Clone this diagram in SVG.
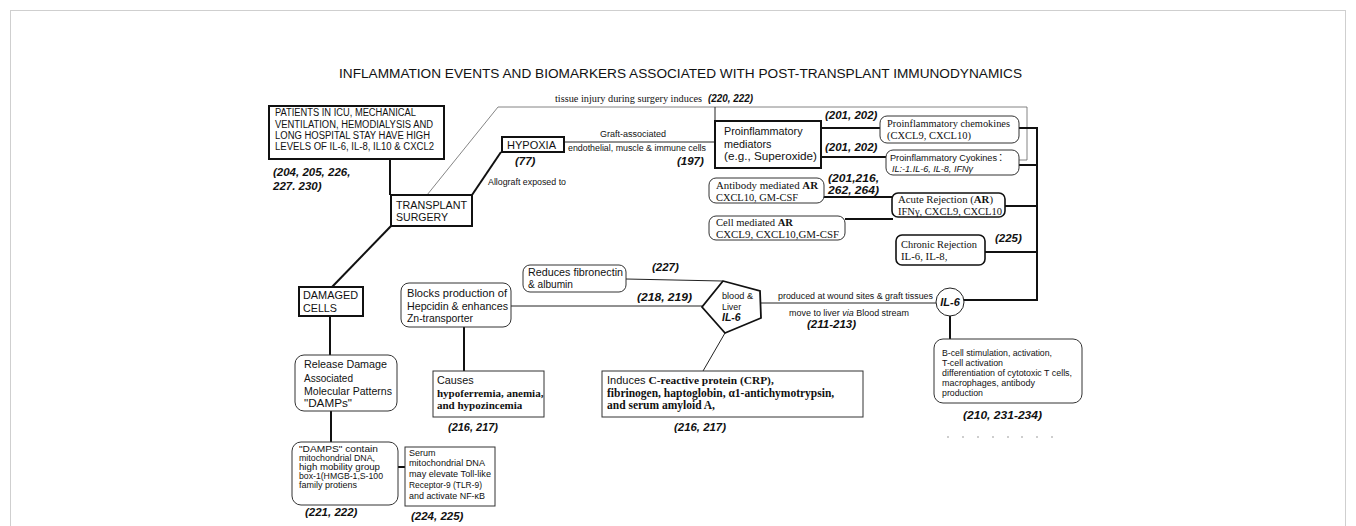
<svg xmlns="http://www.w3.org/2000/svg" width="1356" height="526" viewBox="0 0 1356 526">
<style>
.s{font-family:"Liberation Sans",Arial,sans-serif;fill:#111}
.r{font-family:"Liberation Serif","Times New Roman",serif;fill:#111}
.ref{font-family:"Liberation Sans",Arial,sans-serif;font-weight:bold;font-style:italic;fill:#111;font-size:11.5px}
.bx{fill:#fff;stroke:#111;stroke-width:2}
.rb{fill:#fff;stroke:#333;stroke-width:1}
.tk{stroke:#111;stroke-width:2;fill:none}
.tn{stroke:#222;stroke-width:1;fill:none}
.tl{stroke:#666;stroke-width:0.8;fill:none}
</style>
<rect x="0" y="0" width="1356" height="526" fill="#fff"/>
<rect x="10.5" y="10.5" width="1335" height="540" fill="none" stroke="#cfcfcf" stroke-width="1"/>
<text class="s" x="339" y="78" font-size="13.4" textLength="683" lengthAdjust="spacingAndGlyphs">INFLAMMATION EVENTS AND BIOMARKERS ASSOCIATED WITH POST-TRANSPLANT IMMUNODYNAMICS</text>

<g id="connectors">
<line class="tk" x1="390" y1="159" x2="390" y2="195"/>
<line class="tl" x1="427" y1="195" x2="498" y2="107"/>
<polyline class="tl" points="498,107 1027,107 1027,160 1019,160"/>
<line class="tn" x1="715" y1="107" x2="715" y2="121"/>
<line class="tk" x1="472" y1="195" x2="501" y2="152"/>
<line class="tn" x1="564" y1="142" x2="715" y2="142"/>
<line class="tk" x1="821" y1="128" x2="880" y2="128"/>
<line class="tk" x1="821" y1="157" x2="886" y2="157"/>
<line class="tk" x1="824" y1="197" x2="892" y2="197"/>
<line class="tk" x1="845" y1="219" x2="893" y2="219"/>
<polyline class="tk" points="1019,128 1037,128 1037,300 964,300"/>
<line class="tk" x1="1019" y1="165" x2="1037" y2="165"/>
<line class="tk" x1="1005" y1="206" x2="1037" y2="206"/>
<line class="tk" x1="985" y1="252" x2="1037" y2="252"/>
<line class="tk" x1="950" y1="316" x2="950" y2="339"/>
<line class="tn" x1="761" y1="303" x2="936" y2="303"/>
<line class="tn" x1="626" y1="279" x2="722" y2="281"/>
<line class="tn" x1="511" y1="306" x2="702" y2="306"/>
<line class="tk" x1="464" y1="327" x2="464" y2="371"/>
<line class="tn" x1="725" y1="333" x2="703" y2="371"/>
<line class="tk" x1="391" y1="226" x2="332" y2="287"/>
<line class="tk" x1="330" y1="316" x2="330" y2="355"/>
<line class="tk" x1="331" y1="411" x2="331" y2="442"/>
<line class="tk" x1="398" y1="467" x2="405" y2="467"/>
</g>

<g id="patients">
<rect class="bx" x="269" y="106" width="175" height="53"/>
<g class="s" font-size="10">
<text x="275" y="116" textLength="141" lengthAdjust="spacingAndGlyphs">PATIENTS IN ICU, MECHANICAL</text>
<text x="275" y="128" textLength="158" lengthAdjust="spacingAndGlyphs">VENTILATION, HEMODIALYSIS AND</text>
<text x="275" y="139" textLength="155" lengthAdjust="spacingAndGlyphs">LONG HOSPITAL STAY HAVE HIGH</text>
<text x="275" y="150" textLength="159" lengthAdjust="spacingAndGlyphs">LEVELS OF IL-6, IL-8, IL10 &amp; CXCL2</text>
</g>
<text class="ref" font-size="12"><tspan x="273" y="176">(204, 205, 226,</tspan><tspan x="273" y="190">227. 230)</tspan></text>
</g>

<g id="tissue-injury">
<text class="r" x="555" y="102" font-size="10" textLength="147" lengthAdjust="spacingAndGlyphs">tissue injury during surgery induces</text>
<text class="ref" x="708" y="102" font-size="9" textLength="45" lengthAdjust="spacingAndGlyphs">(220, 222)</text>
</g>

<g id="transplant">
<rect class="bx" x="391" y="195" width="81" height="31"/>
<text class="s" x="396" y="209" font-size="11.2" textLength="71" lengthAdjust="spacingAndGlyphs">TRANSPLANT</text>
<text class="s" x="396" y="221" font-size="11.2" textLength="52" lengthAdjust="spacingAndGlyphs">SURGERY</text>
</g>

<g id="hypoxia">
<rect class="bx" x="502" y="137" width="62" height="15"/>
<text class="s" x="507" y="149" font-size="11" textLength="49" lengthAdjust="spacingAndGlyphs">HYPOXIA</text>
<text class="ref" x="515" y="165">(77)</text>
<text class="s" x="488" y="185" font-size="8.8" textLength="78" lengthAdjust="spacingAndGlyphs">Allograft exposed to</text>
</g>

<g id="graft-label">
<text class="s" x="600" y="137" font-size="9.2" textLength="66" lengthAdjust="spacingAndGlyphs">Graft-associated</text>
<text class="s" x="568" y="151" font-size="9.2" textLength="138" lengthAdjust="spacingAndGlyphs">endothelial, muscle &amp; immune cells</text>
<text class="ref" x="677" y="165">(197)</text>
</g>

<g id="mediators">
<rect class="bx" x="715" y="121" width="106" height="47"/>
<g class="s" font-size="10.8">
<text x="724" y="135">Proinflammatory</text>
<text x="724" y="148">mediators</text>
<text x="724" y="160" textLength="93" lengthAdjust="spacingAndGlyphs">(e.g., Superoxide)</text>
</g>
<text class="ref" x="825" y="119">(201, 202)</text>
<text class="ref" x="825" y="151">(201, 202)</text>
</g>

<g id="chemokines">
<rect class="rb" x="880" y="116" width="139" height="27" rx="7"/>
<text class="r" x="887" y="127" font-size="10.8" textLength="123" lengthAdjust="spacingAndGlyphs">Proinflammatory chemokines</text>
<text class="r" x="887" y="139" font-size="10.8" textLength="84" lengthAdjust="spacingAndGlyphs">(CXCL9, CXCL10)</text>
</g>

<g id="cytokines">
<rect class="rb" x="886" y="150" width="133" height="25" rx="7"/>
<text class="s" x="890" y="161" font-size="9.2" textLength="107" lengthAdjust="spacingAndGlyphs">Proinflammatory Cyokines</text>
<text class="s" x="999" y="161" font-size="12">:</text>
<text class="s" x="892" y="172" font-size="8.2" font-style="italic" textLength="81" lengthAdjust="spacingAndGlyphs">IL:-1.IL-6, IL-8, IFNγ</text>
</g>

<g id="antibody-ar">
<rect class="rb" x="709" y="178" width="115" height="25" rx="7"/>
<text class="r" x="716" y="189" font-size="10.8" textLength="102" lengthAdjust="spacingAndGlyphs">Antibody mediated <tspan font-weight="bold">AR</tspan></text>
<text class="r" x="716" y="201" font-size="10.8" textLength="82" lengthAdjust="spacingAndGlyphs">CXCL10, GM-CSF</text>
<text class="ref" x="828" y="182" textLength="51" lengthAdjust="spacingAndGlyphs">(201,216,</text>
<text class="ref" x="828" y="194" textLength="51" lengthAdjust="spacingAndGlyphs">262, 264)</text>
</g>

<g id="acute">
<rect x="892" y="193" width="113" height="24" rx="6" fill="#fff" stroke="#111" stroke-width="1.6"/>
<text class="r" x="898" y="203" font-size="10.8" textLength="95" lengthAdjust="spacingAndGlyphs">Acute Rejection (<tspan font-weight="bold">AR</tspan>)</text>
<text class="r" x="898" y="215" font-size="10.8" textLength="104" lengthAdjust="spacingAndGlyphs">IFNγ, CXCL9, CXCL10</text>
</g>

<g id="cell-ar">
<rect class="rb" x="709" y="216" width="136" height="24" rx="7"/>
<text class="r" x="716" y="226" font-size="10.8" textLength="77" lengthAdjust="spacingAndGlyphs">Cell mediated <tspan font-weight="bold">AR</tspan></text>
<text class="r" x="716" y="238" font-size="10.8" textLength="123" lengthAdjust="spacingAndGlyphs">CXCL9, CXCL10,GM-CSF</text>
</g>

<g id="chronic">
<rect x="896" y="235" width="89" height="30" rx="6" fill="#fff" stroke="#111" stroke-width="1.6"/>
<text class="r" x="901" y="248" font-size="10.8" textLength="76" lengthAdjust="spacingAndGlyphs">Chronic Rejection</text>
<text class="r" x="901" y="260" font-size="10.8">IL-6, IL-8,</text>
<text class="ref" x="995" y="242">(225)</text>
</g>

<g id="il6-circle">
<circle cx="950" cy="302" r="14" fill="#fff" stroke="#222" stroke-width="1"/>
<text class="s" x="950" y="306" font-size="11" font-weight="bold" font-style="italic" text-anchor="middle">IL-6</text>
<text class="s" x="778" y="299" font-size="9.2" textLength="155" lengthAdjust="spacingAndGlyphs">produced at wound sites &amp; graft tissues</text>
<text class="s" x="789" y="316" font-size="9.2" textLength="120" lengthAdjust="spacingAndGlyphs">move to liver <tspan font-style="italic">via</tspan> Blood stream</text>
<text class="ref" x="807" y="328">(211-213)</text>
</g>

<g id="bcell">
<rect class="rb" x="934" y="339" width="148" height="64" rx="9"/>
<g class="s" font-size="9.2">
<text x="942" y="356" textLength="110" lengthAdjust="spacingAndGlyphs">B-cell stimulation, activation,</text>
<text x="942" y="366" textLength="61" lengthAdjust="spacingAndGlyphs">T-cell activation</text>
<text x="942" y="376" textLength="130" lengthAdjust="spacingAndGlyphs">differentiation of cytotoxic T cells,</text>
<text x="942" y="386" textLength="93" lengthAdjust="spacingAndGlyphs">macrophages, antibody</text>
<text x="942" y="396" textLength="41" lengthAdjust="spacingAndGlyphs">production</text>
</g>
<text class="ref" x="963" y="419" textLength="79" lengthAdjust="spacingAndGlyphs">(210, 231-234)</text>
<g fill="#777"><circle cx="948" cy="437" r="0.7"/><circle cx="963" cy="437" r="0.7"/><circle cx="978" cy="437" r="0.7"/><circle cx="993" cy="437" r="0.7"/><circle cx="1008" cy="437" r="0.7"/><circle cx="1022" cy="437" r="0.7"/><circle cx="1037" cy="437" r="0.7"/><circle cx="1052" cy="437" r="0.7"/></g>
</g>

<g id="pentagon">
<polygon points="723,281 760,291 761,318 725,333 702,307" fill="#fff" stroke="#111" stroke-width="1.8"/>
<text class="s" x="722" y="299" font-size="8.8" textLength="31" lengthAdjust="spacingAndGlyphs">blood &amp;</text>
<text class="s" x="722" y="310" font-size="8.8">Liver</text>
<text class="s" x="722" y="321" font-size="10.5" font-weight="bold" font-style="italic">IL-6</text>
</g>

<g id="fibronectin">
<rect class="rb" x="523" y="265" width="103" height="27" rx="7"/>
<text class="s" x="528" y="276" font-size="10" textLength="95" lengthAdjust="spacingAndGlyphs">Reduces fibronectin</text>
<text class="s" x="528" y="288" font-size="10" textLength="45" lengthAdjust="spacingAndGlyphs">&amp; albumin</text>
<text class="ref" x="652" y="271">(227)</text>
<text class="ref" x="637" y="301" textLength="55" lengthAdjust="spacingAndGlyphs">(218, 219)</text>
</g>

<g id="hepcidin">
<rect class="rb" x="401" y="283" width="110" height="44" rx="8"/>
<g class="s" font-size="10.6">
<text x="407" y="297" textLength="100" lengthAdjust="spacingAndGlyphs">Blocks production of</text>
<text x="407" y="310" textLength="101" lengthAdjust="spacingAndGlyphs">Hepcidin &amp; enhances</text>
<text x="407" y="322" textLength="66" lengthAdjust="spacingAndGlyphs">Zn-transporter</text>
</g>
</g>

<g id="causes">
<rect class="rb" x="433" y="371" width="111" height="46"/>
<text class="s" x="437" y="384" font-size="10.8">Causes</text>
<text class="r" font-size="11" font-weight="bold"><tspan x="437" y="397">hypoferremia, anemia,</tspan><tspan x="437" y="409">and hypozincemia</tspan></text>
<text class="ref" x="448" y="431" textLength="50" lengthAdjust="spacingAndGlyphs">(216, 217)</text>
</g>

<g id="induces">
<rect class="rb" x="602" y="371" width="261" height="46"/>
<text class="s" x="607" y="384" font-size="11">Induces <tspan class="r" font-weight="bold" font-size="11.4">C-reactive protein (CRP),</tspan></text>
<text class="r" font-size="11.5" font-weight="bold"><tspan x="607" y="397">fibrinogen, haptoglobin, α1-antichymotrypsin,</tspan><tspan x="607" y="409">and serum amyloid A,</tspan></text>
<text class="ref" x="674" y="431" textLength="52" lengthAdjust="spacingAndGlyphs">(216, 217)</text>
</g>

<g id="damaged">
<rect class="bx" x="299" y="287" width="64" height="29"/>
<text class="s" x="303" y="299" font-size="11.2" textLength="55" lengthAdjust="spacingAndGlyphs">DAMAGED</text>
<text class="s" x="303" y="312" font-size="11.2" textLength="34" lengthAdjust="spacingAndGlyphs">CELLS</text>
</g>

<g id="release">
<rect class="rb" x="295" y="355" width="102" height="56" rx="9"/>
<g class="s" font-size="11">
<text x="304" y="368" textLength="83" lengthAdjust="spacingAndGlyphs">Release Damage</text>
<text x="304" y="382" textLength="49" lengthAdjust="spacingAndGlyphs">Associated</text>
<text x="304" y="395" textLength="88" lengthAdjust="spacingAndGlyphs">Molecular Patterns</text>
<text x="304" y="407" textLength="48" lengthAdjust="spacingAndGlyphs">"DAMPs"</text>
</g>
</g>

<g id="damps">
<rect class="rb" x="292" y="442" width="106" height="63" rx="9"/>
<g class="s" font-size="9.3">
<text x="299" y="452" textLength="79" lengthAdjust="spacingAndGlyphs">"DAMPS" contain</text>
<text x="299" y="461" textLength="76" lengthAdjust="spacingAndGlyphs">mitochondrial DNA,</text>
<text x="299" y="470" textLength="81" lengthAdjust="spacingAndGlyphs">high mobility group</text>
<text x="299" y="479" textLength="84" lengthAdjust="spacingAndGlyphs">box-1(HMGB-1,S-100</text>
<text x="299" y="488" textLength="58" lengthAdjust="spacingAndGlyphs">family protiens</text>
</g>
<text class="ref" x="305" y="516">(221, 222)</text>
</g>

<g id="serum">
<rect class="rb" x="405" y="447" width="90" height="59"/>
<g class="s" font-size="9">
<text x="409" y="456">Serum</text>
<text x="409" y="466" textLength="76" lengthAdjust="spacingAndGlyphs">mitochondrial DNA</text>
<text x="409" y="477" textLength="82" lengthAdjust="spacingAndGlyphs">may elevate Toll-like</text>
<text x="409" y="488" textLength="73" lengthAdjust="spacingAndGlyphs">Receptor-9 (TLR-9)</text>
<text x="409" y="499" textLength="76" lengthAdjust="spacingAndGlyphs">and activate NF-κB</text>
</g>
<text class="ref" x="411" y="520">(224, 225)</text>
</g>
</svg>
